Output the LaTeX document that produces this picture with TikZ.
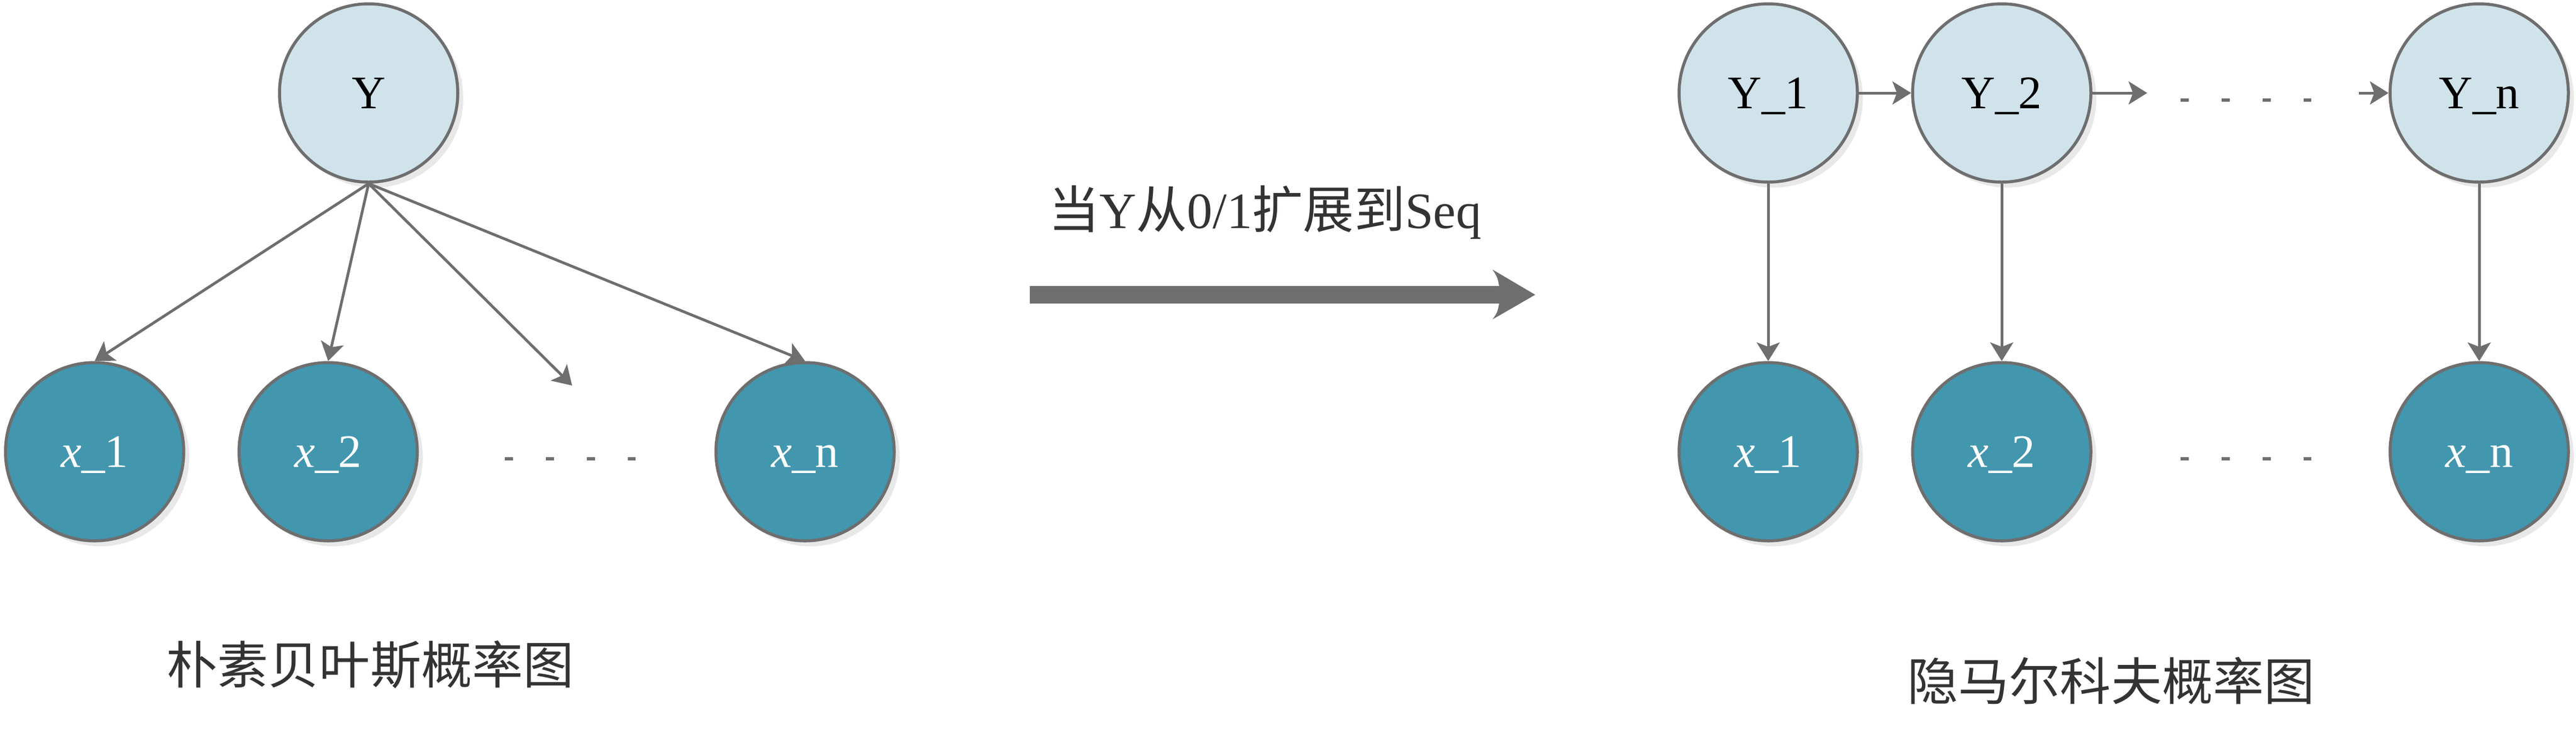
\documentclass[tikz,border=0pt]{standalone}
\usepackage{fontspec}
\setmainfont{Liberation Serif}
\newfontfamily\cjk{Noto Sans CJK SC}
\usetikzlibrary{arrows.meta,shadows}
\definecolor{ylight}{HTML}{D0E2EA}
\definecolor{xdark}{HTML}{4296AE}
\definecolor{edgegray}{HTML}{6E6E6E}
\definecolor{shadowgray}{HTML}{E8E8E8}
\definecolor{txtgray}{HTML}{333333}
\tikzset{
  basenode/.style={circle, minimum size=3.26cm, inner sep=0pt, draw=edgegray, line width=0.055cm,
    text height=0.57cm, text depth=0pt,
    font=\fontsize{24.3pt}{28pt}\selectfont,
    drop shadow={shadow xshift=0.1cm, shadow yshift=-0.1cm, fill=shadowgray, draw=none, opacity=1}},
  ynode/.style={basenode, fill=ylight, text=black},
  xnode/.style={basenode, fill=xdark, text=white},
  conn/.style={draw=edgegray, line width=0.05cm, -{Stealth[length=0.34cm, width=0.42cm, inset=0.08cm]}},
  dots/.style={draw=edgegray, line width=0.06cm, dash pattern=on 0.15cm off 0.60cm},
  cjklabel/.style={anchor=base, text=txtgray, font=\cjk\fontsize{26.5pt}{30pt}\selectfont, inner sep=0pt},
}
\begin{document}
\begin{tikzpicture}
\useasboundingbox (0,0) rectangle (47.1,-13.76);
% left: naive Bayes
\node[ynode] (Y) at (6.74,-1.70) {Y};
\node[xnode] (x1) at (1.73,-8.26) {\textit{x}\_1};
\node[xnode] (x2) at (6.00,-8.26) {\textit{x}\_2};
\node[xnode] (xn) at (14.72,-8.26) {\textit{x}\_n};
\coordinate (free) at (10.46,-7.05);
\draw[conn] (Y.south) -- (x1.north);
\draw[conn] (Y.south) -- (x2.north);
\draw[conn] (Y.south) -- (free);
\draw[conn] (Y.south) -- (xn.north);
\coordinate (ldA) at (9.23,-8.39);
\coordinate (ldB) at (11.62,-8.39);
\draw[dots] (ldA) -- (ldB);
\node[cjklabel] (lab1) at (6.77,-12.50) {朴素贝叶斯概率图};
% middle
\node[anchor=base, text=txtgray, inner sep=0pt, font=\fontsize{26.5pt}{30pt}\selectfont] (mid) at (23.13,-4.17) {{\cjk 当}Y{\cjk 从}0/1{\cjk 扩展到}Seq};
\fill[edgegray] (18.83,-5.23) -- (27.41,-5.23) .. controls (27.38,-5.07) .. (27.29,-4.93) -- (28.07,-5.39) -- (27.29,-5.84) .. controls (27.38,-5.71) .. (27.41,-5.55) -- (18.83,-5.55) -- cycle;
% right: HMM
\node[ynode] (Y1) at (32.33,-1.70) {Y\_1};
\node[ynode] (Y2) at (36.60,-1.70) {Y\_2};
\node[ynode] (Yn) at (45.33,-1.70) {Y\_n};
\node[xnode] (X1) at (32.33,-8.26) {\textit{x}\_1};
\node[xnode] (X2) at (36.60,-8.26) {\textit{x}\_2};
\node[xnode] (Xn) at (45.33,-8.26) {\textit{x}\_n};
\coordinate (hA) at (39.26,-1.70);
\coordinate (hB) at (43.13,-1.70);
\draw[conn] (Y1.east) -- (Y2.west);
\draw[conn] (Y2.east) -- (hA);
\draw[conn] (hB) -- (Yn.west);
\draw[conn] (Y1.south) -- (X1.north);
\draw[conn] (Y2.south) -- (X2.north);
\draw[conn] (Yn.south) -- (Xn.north);
\coordinate (tdA) at (39.87,-1.83);
\coordinate (tdB) at (42.26,-1.83);
\draw[dots] (tdA) -- (tdB);
\coordinate (rdA) at (39.87,-8.39);
\coordinate (rdB) at (42.26,-8.39);
\draw[dots] (rdA) -- (rdB);
\node[cjklabel] (lab2) at (38.60,-12.80) {隐马尔科夫概率图};
\end{tikzpicture}
\end{document}
